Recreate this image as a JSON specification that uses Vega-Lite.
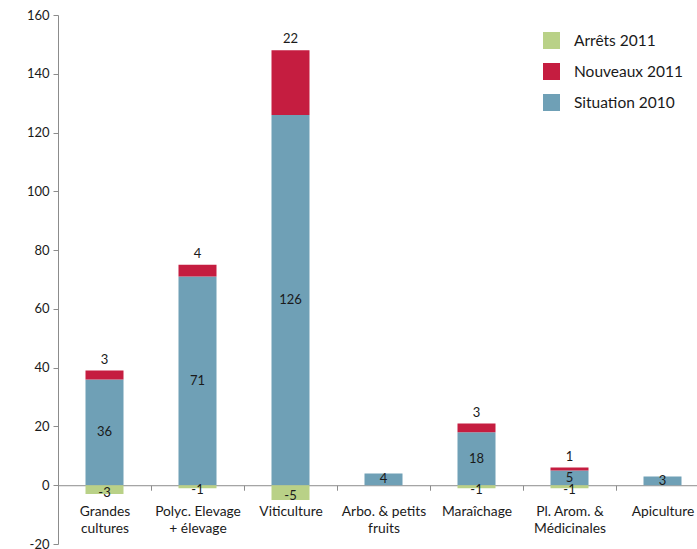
{
  "$schema": "https://vega.github.io/schema/vega-lite/v6.json",
  "autosize": "none",
  "padding": {"left": 58, "top": 15, "right": 0, "bottom": 5},
  "width": 651,
  "height": 529,
  "background": "white",
  "config": {
    "font": "Lato",
    "view": {"stroke": null},
    "axis": {"labelFont": "Lato", "labelColor": "#1a1a1a", "labelFontSize": 13, "domainColor": "#8c8c8c", "tickColor": "#8c8c8c", "grid": false}
  },
  "data": {
    "values": [
      {"categorie": "Grandes cultures", "serie": "Situation 2010", "ordre": 1, "valeur": 36},
      {"categorie": "Grandes cultures", "serie": "Nouveaux 2011", "ordre": 2, "valeur": 3},
      {"categorie": "Grandes cultures", "serie": "Arrêts 2011", "ordre": 3, "valeur": -3},
      {"categorie": "Polyc. Elevage + élevage", "serie": "Situation 2010", "ordre": 1, "valeur": 71},
      {"categorie": "Polyc. Elevage + élevage", "serie": "Nouveaux 2011", "ordre": 2, "valeur": 4},
      {"categorie": "Polyc. Elevage + élevage", "serie": "Arrêts 2011", "ordre": 3, "valeur": -1},
      {"categorie": "Viticulture", "serie": "Situation 2010", "ordre": 1, "valeur": 126},
      {"categorie": "Viticulture", "serie": "Nouveaux 2011", "ordre": 2, "valeur": 22},
      {"categorie": "Viticulture", "serie": "Arrêts 2011", "ordre": 3, "valeur": -5},
      {"categorie": "Arbo. & petits fruits", "serie": "Situation 2010", "ordre": 1, "valeur": 4},
      {"categorie": "Maraîchage", "serie": "Situation 2010", "ordre": 1, "valeur": 18},
      {"categorie": "Maraîchage", "serie": "Nouveaux 2011", "ordre": 2, "valeur": 3},
      {"categorie": "Maraîchage", "serie": "Arrêts 2011", "ordre": 3, "valeur": -1},
      {"categorie": "Pl. Arom. & Médicinales", "serie": "Situation 2010", "ordre": 1, "valeur": 5},
      {"categorie": "Pl. Arom. & Médicinales", "serie": "Nouveaux 2011", "ordre": 2, "valeur": 1},
      {"categorie": "Pl. Arom. & Médicinales", "serie": "Arrêts 2011", "ordre": 3, "valeur": -1},
      {"categorie": "Apiculture", "serie": "Situation 2010", "ordre": 1, "valeur": 3}
    ]
  },
  "transform": [
    {"stack": "valeur", "groupby": ["categorie"], "sort": [{"field": "ordre"}], "as": ["y0", "y1"]},
    {"calculate": "(datum.y0 + datum.y1) / 2", "as": "milieu"}
  ],
  "encoding": {
    "x": {
      "field": "categorie",
      "type": "nominal",
      "sort": null,
      "scale": {"paddingInner": 0, "paddingOuter": 0},
      "axis": {
        "title": null,
        "labelAngle": 0,
        "labelFontSize": 13.8,
        "offset": -58.78,
        "tickBand": "extent",
        "tickSize": 5,
        "labelPadding": 14,
        "labelLineHeight": 17,
        "labelBaseline": "top",
        "labelExpr": "datum.label == 'Grandes cultures' ? ['Grandes', 'cultures'] : datum.label == 'Polyc. Elevage + élevage' ? ['Polyc. Elevage', '+ élevage'] : datum.label == 'Arbo. & petits fruits' ? ['Arbo. & petits', 'fruits'] : datum.label == 'Pl. Arom. & Médicinales' ? ['Pl. Arom. &', 'Médicinales'] : datum.label"
      }
    }
  },
  "layer": [
    {
      "mark": {"type": "bar", "size": 38},
      "encoding": {
        "y": {
          "field": "y0",
          "type": "quantitative",
          "scale": {"domain": [-20, 160], "nice": false, "zero": false},
          "axis": {
            "title": null,
            "values": [-20, 0, 20, 40, 60, 80, 100, 120, 140, 160],
            "labelExpr": "datum.value + ''",
            "tickSize": 5,
            "labelPadding": 4
          }
        },
        "y2": {"field": "y1"},
        "color": {
          "field": "serie",
          "type": "nominal",
          "scale": {
            "domain": ["Arrêts 2011", "Nouveaux 2011", "Situation 2010"],
            "range": ["#b9d187", "#c51d40", "#6fa0b6"]
          },
          "legend": {
            "title": null,
            "orient": "none",
            "legendX": 485,
            "legendY": 17,
            "symbolType": "square",
            "symbolSize": 289,
            "symbolStrokeWidth": 0,
            "symbolOpacity": 1,
            "labelFontSize": 15.5,
            "labelFont": "Lato",
            "labelColor": "#1a1a1a",
            "labelOffset": 14,
            "rowPadding": 14
          }
        }
      }
    },
    {
      "transform": [{"filter": "datum.serie == 'Situation 2010'"}],
      "mark": {"type": "text", "fontSize": 13, "color": "#1a1a1a", "baseline": "middle"},
      "encoding": {
        "y": {"field": "milieu", "type": "quantitative"},
        "text": {"field": "valeur", "type": "nominal"}
      }
    },
    {
      "transform": [{"filter": "datum.serie == 'Arrêts 2011'"}],
      "mark": {"type": "text", "fontSize": 13, "color": "#1a1a1a", "baseline": "middle", "dy": 3},
      "encoding": {
        "y": {"field": "milieu", "type": "quantitative"},
        "text": {"field": "valeur", "type": "nominal"}
      }
    },
    {
      "transform": [{"filter": "datum.serie == 'Nouveaux 2011'"}],
      "mark": {"type": "text", "fontSize": 13, "color": "#1a1a1a", "baseline": "bottom", "dy": -4},
      "encoding": {
        "y": {"field": "y1", "type": "quantitative"},
        "text": {"field": "valeur", "type": "nominal"}
      }
    }
  ]
}
